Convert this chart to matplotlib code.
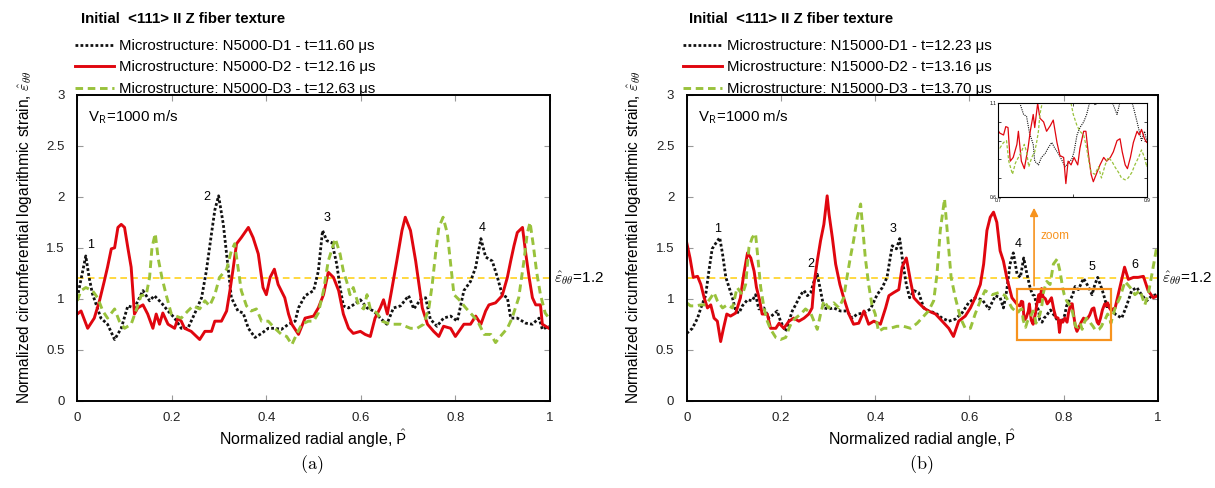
import matplotlib
matplotlib.use("Agg")
import matplotlib.pyplot as plt
from matplotlib.patches import Rectangle
from matplotlib.lines import Line2D

plt.rcParams["font.family"] = ["Liberation Sans", "DejaVu Sans"]
plt.rcParams["mathtext.fontset"] = "cm"

# ---------------- panel (a): N5000 ----------------
a_d1_p = [0, 0.018, 0.025, 0.032, 0.05, 0.064, 0.079, 0.093, 0.107, 0.121,
          0.139, 0.153, 0.163, 0.178, 0.192, 0.206, 0.22, 0.234, 0.248, 0.263,
          0.273, 0.284, 0.291, 0.299, 0.309, 0.319, 0.326, 0.34, 0.351, 0.362,
          0.376, 0.39, 0.404, 0.418, 0.432, 0.447, 0.461, 0.468, 0.482, 0.5,
          0.51, 0.519, 0.528, 0.539, 0.549, 0.556, 0.563, 0.574, 0.584, 0.599,
          0.613, 0.627, 0.641, 0.655, 0.669, 0.684, 0.701, 0.712, 0.726, 0.737,
          0.747, 0.761, 0.775, 0.79, 0.804, 0.818, 0.832, 0.843, 0.854, 0.864,
          0.878, 0.889, 0.899, 0.91, 0.917, 0.931, 0.949, 0.963, 0.977, 0.984,
          0.998]
a_d1_v = [1.01, 1.42, 1.21, 1.05, 0.81, 0.75, 0.60, 0.71, 0.93, 0.91,
          1.08, 0.98, 1.03, 0.96, 0.88, 0.81, 0.71, 0.71, 0.85, 1.01,
          1.27, 1.64, 1.87, 2.01, 1.73, 1.31, 1.01, 0.88, 0.86, 0.71,
          0.62, 0.66, 0.71, 0.71, 0.70, 0.75, 0.78, 0.91, 1.03, 1.08,
          1.27, 1.67, 1.57, 1.55, 1.34, 1.11, 0.93, 0.91, 0.94, 0.99,
          0.91, 0.88, 0.81, 0.75, 0.91, 0.93, 1.03, 0.90, 0.99, 1.01,
          0.80, 0.73, 0.81, 0.83, 0.78, 1.08, 1.17, 1.31, 1.59, 1.41,
          1.37, 1.21, 1.04, 1.01, 0.81, 0.81, 0.76, 0.75, 0.81, 0.70,
          0.73]

a_d2_p = [0, 0.008, 0.022, 0.036, 0.047, 0.057, 0.064, 0.072, 0.079, 0.086,
          0.093, 0.1, 0.107, 0.114, 0.121, 0.128, 0.139, 0.149, 0.16, 0.167,
          0.174, 0.181, 0.192, 0.206, 0.213, 0.22, 0.227, 0.241, 0.259, 0.27,
          0.284, 0.291, 0.305, 0.316, 0.323, 0.329, 0.337, 0.347, 0.362, 0.372,
          0.383, 0.393, 0.4, 0.408, 0.417, 0.425, 0.439, 0.447, 0.454, 0.468,
          0.482, 0.5, 0.51, 0.521, 0.531, 0.542, 0.553, 0.563, 0.574, 0.584,
          0.599, 0.609, 0.62, 0.63, 0.641, 0.648, 0.656, 0.665, 0.676, 0.687,
          0.694, 0.705, 0.716, 0.723, 0.73, 0.741, 0.754, 0.765, 0.775, 0.79,
          0.8, 0.818, 0.832, 0.843, 0.854, 0.864, 0.871, 0.885, 0.899, 0.91,
          0.917, 0.924, 0.931, 0.942, 0.949, 0.956, 0.963, 0.97, 0.98, 0.984,
          0.998]
a_d2_v = [0.85, 0.88, 0.71, 0.81, 0.98, 1.17, 1.31, 1.49, 1.50, 1.70,
          1.73, 1.70, 1.50, 1.31, 0.85, 0.91, 0.94, 0.85, 0.71, 0.85,
          0.75, 0.86, 0.75, 0.71, 0.81, 0.78, 0.71, 0.68, 0.60, 0.68,
          0.68, 0.78, 0.78, 0.88, 1.08, 1.27, 1.54, 1.60, 1.70, 1.60,
          1.44, 1.11, 1.04, 1.21, 1.29, 1.14, 1.01, 0.85, 0.75, 0.65,
          0.81, 0.83, 0.91, 1.04, 1.26, 1.21, 1.08, 0.85, 0.71, 0.66,
          0.68, 0.65, 0.63, 0.81, 0.91, 0.99, 0.85, 1.08, 1.37, 1.67,
          1.80, 1.67, 1.37, 1.14, 0.91, 0.75, 0.68, 0.63, 0.73, 0.71,
          0.63, 0.75, 0.75, 0.83, 0.75, 0.88, 0.94, 0.96, 1.03, 1.21,
          1.37, 1.52, 1.65, 1.70, 1.44, 1.21, 1.01, 0.94, 0.94, 0.75,
          0.71]

a_d3_p = [0, 0.008, 0.018, 0.032, 0.043, 0.054, 0.064, 0.079, 0.089, 0.1,
          0.114, 0.124, 0.135, 0.146, 0.153, 0.158, 0.165, 0.171, 0.179, 0.188,
          0.199, 0.209, 0.22, 0.234, 0.245, 0.259, 0.27, 0.28, 0.291, 0.301,
          0.316, 0.326, 0.333, 0.34, 0.347, 0.358, 0.368, 0.379, 0.39, 0.404,
          0.418, 0.432, 0.443, 0.454, 0.465, 0.475, 0.489, 0.5, 0.51, 0.521,
          0.531, 0.546, 0.556, 0.563, 0.57, 0.577, 0.584, 0.595, 0.606, 0.613,
          0.62, 0.634, 0.645, 0.662, 0.684, 0.705, 0.719, 0.733, 0.744, 0.751,
          0.758, 0.765, 0.774, 0.783, 0.79, 0.797, 0.808, 0.822, 0.832, 0.847,
          0.861, 0.875, 0.885, 0.895, 0.91, 0.92, 0.934, 0.945, 0.952, 0.958,
          0.965, 0.972, 0.98, 0.99, 0.998]
a_d3_v = [0.98, 1.08, 1.11, 1.08, 1.01, 0.88, 0.81, 0.90, 0.78, 0.71,
          0.75, 0.88, 1.03, 1.04, 1.21, 1.50, 1.64, 1.40, 1.21, 1.04,
          0.85, 0.83, 0.81, 0.88, 0.93, 0.90, 0.98, 0.93, 1.04, 1.21,
          1.29, 1.47, 1.54, 1.31, 1.08, 0.93, 0.88, 0.90, 0.78, 0.78,
          0.71, 0.65, 0.63, 0.55, 0.66, 0.75, 0.78, 0.78, 0.86, 1.08,
          1.37, 1.59, 1.44, 1.27, 1.17, 1.04, 1.11, 0.94, 0.90, 1.04,
          0.90, 0.86, 0.78, 0.75, 0.75, 0.71, 0.71, 0.75, 0.91, 1.14,
          1.44, 1.70, 1.80, 1.64, 1.34, 1.04, 0.99, 0.91, 0.86, 0.78,
          0.65, 0.65, 0.57, 0.63, 0.71, 0.81, 1.01, 1.37, 1.64, 1.75,
          1.52, 1.26, 1.04, 0.86, 0.81]

# ---------------- panel (b): N15000 ----------------
b_d1_p = [0, 0.012, 0.023, 0.03, 0.04, 0.047, 0.054, 0.061, 0.07, 0.076,
          0.083, 0.09, 0.097, 0.104, 0.111, 0.118, 0.129, 0.139, 0.146, 0.153,
          0.164, 0.174, 0.185, 0.192, 0.199, 0.21, 0.217, 0.224, 0.231, 0.242,
          0.249, 0.256, 0.263, 0.27, 0.277, 0.284, 0.291, 0.301, 0.312, 0.326,
          0.34, 0.351, 0.362, 0.376, 0.39, 0.404, 0.415, 0.425, 0.436, 0.445,
          0.452, 0.459, 0.466, 0.473, 0.482, 0.492, 0.503, 0.513, 0.528, 0.542,
          0.556, 0.57, 0.584, 0.598, 0.612, 0.627, 0.641, 0.655, 0.665, 0.672,
          0.679, 0.686, 0.693, 0.701, 0.708, 0.715, 0.722, 0.729, 0.734, 0.738,
          0.742, 0.747, 0.749, 0.754, 0.758, 0.763, 0.767, 0.772, 0.776, 0.781,
          0.785, 0.79, 0.794, 0.799, 0.802, 0.806, 0.81, 0.815, 0.819, 0.824,
          0.831, 0.842, 0.852, 0.86, 0.866, 0.872, 0.882, 0.887, 0.893, 0.897,
          0.9, 0.909, 0.923, 0.934, 0.944, 0.955, 0.965, 0.976, 0.987, 0.997]
b_d1_v = [0.66, 0.71, 0.81, 0.91, 1.03, 1.27, 1.49, 1.54, 1.60, 1.44,
          1.21, 1.11, 1.01, 0.88, 0.86, 0.93, 0.99, 0.98, 1.04, 0.90,
          0.91, 0.81, 0.85, 0.88, 0.78, 0.68, 0.78, 0.88, 0.94, 1.04,
          1.08, 1.03, 1.06, 1.17, 1.24, 1.08, 0.91, 0.90, 0.91, 0.88,
          0.88, 0.81, 0.85, 0.86, 0.90, 1.04, 1.11, 1.21, 1.52, 1.49,
          1.59, 1.34, 1.14, 1.01, 1.08, 1.06, 0.91, 0.88, 0.86, 0.81,
          0.78, 0.80, 0.86, 0.96, 1.01, 0.99, 0.90, 1.03, 1.01, 0.91,
          1.08, 1.34, 1.45, 1.24, 1.21, 1.40, 1.24, 1.10, 1.04, 1.03,
          0.94, 0.88, 0.79, 0.77, 0.81, 0.83, 0.86, 0.89, 0.86, 0.83,
          0.80, 0.76, 0.78, 0.80, 0.84, 0.93, 0.97, 1.00, 1.04, 1.12,
          1.09, 1.20, 1.12, 1.04, 1.14, 1.21, 1.08, 1.00, 0.90, 0.95,
          0.90, 0.85, 0.81, 0.94, 1.08, 1.11, 1.04, 0.98, 1.03, 1.04]

b_d2_p = [0, 0.007, 0.014, 0.023, 0.03, 0.037, 0.044, 0.051, 0.058, 0.065,
          0.072, 0.078, 0.085, 0.093, 0.104, 0.114, 0.121, 0.129, 0.136, 0.143,
          0.148, 0.155, 0.16, 0.171, 0.178, 0.189, 0.196, 0.206, 0.217, 0.227,
          0.238, 0.249, 0.259, 0.266, 0.27, 0.277, 0.284, 0.291, 0.298, 0.302,
          0.309, 0.316, 0.325, 0.333, 0.344, 0.354, 0.365, 0.376, 0.386, 0.397,
          0.411, 0.422, 0.429, 0.439, 0.45, 0.457, 0.466, 0.475, 0.482, 0.492,
          0.503, 0.513, 0.528, 0.542, 0.556, 0.566, 0.577, 0.591, 0.602, 0.612,
          0.623, 0.63, 0.637, 0.644, 0.651, 0.658, 0.665, 0.672, 0.679, 0.69,
          0.702, 0.707, 0.71, 0.713, 0.716, 0.72, 0.725, 0.727, 0.731, 0.735,
          0.74, 0.743, 0.747, 0.749, 0.753, 0.756, 0.761, 0.765, 0.77, 0.774,
          0.779, 0.783, 0.788, 0.791, 0.794, 0.798, 0.802, 0.807, 0.81, 0.815,
          0.818, 0.821, 0.825, 0.828, 0.833, 0.837, 0.842, 0.846, 0.851, 0.855,
          0.86, 0.864, 0.867, 0.871, 0.874, 0.878, 0.882, 0.887, 0.89, 0.893,
          0.897, 0.9, 0.909, 0.919, 0.929, 0.937, 0.948, 0.958, 0.969, 0.979,
          0.99, 0.999]
b_d2_v = [1.55, 1.40, 1.21, 1.22, 1.14, 1.01, 0.91, 0.94, 0.81, 0.78,
          0.58, 0.71, 0.85, 0.83, 0.86, 1.01, 1.24, 1.45, 1.40, 1.27,
          1.11, 0.98, 0.85, 0.85, 0.71, 0.71, 0.76, 0.71, 0.78, 0.81,
          0.78, 0.81, 0.85, 0.91, 1.14, 1.37, 1.57, 1.73, 2.01, 1.83,
          1.60, 1.34, 1.14, 1.01, 0.85, 0.75, 0.76, 0.88, 0.75, 0.78,
          0.75, 0.91, 1.03, 1.06, 1.09, 1.31, 1.40, 1.17, 1.01, 0.96,
          0.91, 0.88, 0.85, 0.78, 0.71, 0.63, 0.78, 0.83, 0.91, 1.01,
          1.14, 1.34, 1.67, 1.80, 1.85, 1.75, 1.47, 1.37, 1.21, 1.01,
          0.94, 0.93, 0.975, 0.97, 0.79, 0.81, 0.88, 0.95, 0.79, 0.75,
          0.86, 0.95, 1.04, 0.97, 1.10, 1.02, 1.00, 0.95, 0.98, 1.01,
          0.89, 0.82, 0.81, 0.67, 0.79, 0.77, 0.81, 0.77, 0.86, 0.95,
          0.95, 0.84, 0.72, 0.68, 0.73, 0.77, 0.81, 0.79, 0.81, 0.84,
          0.90, 0.91, 0.84, 0.77, 0.75, 0.81, 0.89, 0.95, 0.93, 0.96,
          0.91, 0.89, 0.91, 1.11, 1.31, 1.19, 1.21, 1.21, 1.22, 1.08,
          1.01, 1.03]

b_d3_p = [0, 0.008, 0.019, 0.03, 0.04, 0.051, 0.058, 0.065, 0.076, 0.086,
          0.097, 0.107, 0.118, 0.125, 0.132, 0.139, 0.146, 0.151, 0.157, 0.164,
          0.171, 0.178, 0.189, 0.199, 0.21, 0.217, 0.224, 0.231, 0.242, 0.252,
          0.263, 0.27, 0.277, 0.284, 0.291, 0.301, 0.312, 0.323, 0.333, 0.34,
          0.347, 0.354, 0.362, 0.369, 0.374, 0.379, 0.386, 0.393, 0.4, 0.407,
          0.418, 0.432, 0.446, 0.46, 0.475, 0.489, 0.503, 0.513, 0.524, 0.531,
          0.538, 0.547, 0.554, 0.561, 0.57, 0.581, 0.591, 0.602, 0.612, 0.623,
          0.633, 0.648, 0.662, 0.676, 0.69, 0.702, 0.707, 0.711, 0.714, 0.719,
          0.723, 0.727, 0.731, 0.735, 0.738, 0.741, 0.745, 0.749, 0.752, 0.754,
          0.756, 0.759, 0.764, 0.771, 0.778, 0.786, 0.792, 0.798, 0.801, 0.806,
          0.81, 0.815, 0.819, 0.822, 0.825, 0.83, 0.835, 0.839, 0.844, 0.848,
          0.853, 0.857, 0.862, 0.866, 0.871, 0.875, 0.88, 0.884, 0.889, 0.893,
          0.897, 0.9, 0.909, 0.919, 0.93, 0.941, 0.951, 0.962, 0.972, 0.979,
          0.987, 0.997]
b_d3_v = [0.96, 0.93, 0.93, 0.94, 0.94, 1.01, 1.06, 0.98, 0.91, 0.94,
          0.91, 1.11, 1.04, 1.14, 1.50, 1.60, 1.64, 1.40, 1.11, 0.91,
          0.78, 0.70, 0.62, 0.60, 0.62, 0.71, 0.78, 0.81, 0.85, 0.90,
          0.86, 0.78, 0.70, 0.85, 0.98, 0.91, 0.96, 0.91, 1.01, 1.21,
          1.40, 1.57, 1.80, 1.93, 1.67, 1.40, 1.14, 0.94, 0.85, 0.68,
          0.71, 0.71, 0.73, 0.73, 0.71, 0.76, 0.83, 0.88, 0.98, 1.24,
          1.67, 1.98, 1.60, 1.21, 1.01, 0.81, 0.71, 0.71, 0.85, 0.98,
          1.08, 1.04, 1.06, 1.03, 0.91, 0.86, 0.89, 0.90, 0.79, 0.72,
          0.78, 0.81, 0.84, 0.88, 0.84, 0.76, 0.81, 0.84, 0.90, 0.95,
          1.04, 1.10, 1.17, 1.14, 1.34, 1.39, 1.27, 1.10, 1.04, 0.98,
          0.95, 0.93, 0.86, 0.79, 0.73, 0.72, 0.76, 0.70, 0.77, 0.81,
          0.79, 0.76, 0.73, 0.70, 0.69, 0.70, 0.73, 0.77, 0.81, 0.85,
          0.81, 0.76, 0.91, 1.01, 1.17, 1.11, 1.04, 1.08, 0.94, 1.04,
          1.24, 1.50]

a_labels = ["Microstructure: N5000-D1 - t=11.60 μs",
            "Microstructure: N5000-D2 - t=12.16 μs",
            "Microstructure: N5000-D3 - t=12.63 μs"]
b_labels = ["Microstructure: N15000-D1 - t=12.23 μs",
            "Microstructure: N15000-D2 - t=13.16 μs",
            "Microstructure: N15000-D3 - t=13.70 μs"]
legend_title = "Initial  <111> II Z fiber texture"

# peak numbers: (P, value, text)
a_peaks = [(0.029, 1.53, "1"), (0.275, 2.0, "2"), (0.528, 1.79, "3"), (0.856, 1.69, "4")]
b_peaks = [(0.066, 1.68, "1"), (0.263, 1.34, "2"), (0.438, 1.68, "3"),
           (0.703, 1.54, "4"), (0.86, 1.31, "5"), (0.951, 1.33, "6")]

threshold = 1.2
zoom_box = (0.7, 0.9, 0.6, 1.1)

BLACK = "#111111"
RED = "#e0060f"
GREEN = "#99c23c"
YELLOW = "#ffd21f"
ORANGE = "#f7931e"

styles = [dict(color=BLACK, ls=(0, (1, 0.8)), lw=2.0),
          dict(color=RED, ls="-", lw=2.1),
          dict(color=GREEN, ls=(0, (2.6, 1.6)), lw=2.1)]


def draw_panel(ax, series, labels, peaks, legend_x, letter, letter_x):
    for (p, v), st in zip(series, styles):
        ax.plot(p, v, **st)
    ax.axhline(threshold, color=YELLOW, ls=(0, (4, 2.5)), lw=1.2, zorder=1)
    ax.set_xlim(0, 1)
    ax.set_ylim(0, 3)
    ax.set_xticks([0, 0.2, 0.4, 0.6, 0.8, 1])
    ax.set_xticklabels(["0", "0.2", "0.4", "0.6", "0.8", "1"])
    ax.set_yticks([0, 0.5, 1, 1.5, 2, 2.5, 3])
    ax.set_yticklabels(["0", "0.5", "1", "1.5", "2", "2.5", "3"])
    ax.tick_params(direction="in", top=True, right=True, length=4, width=0.8,
                   color="#999999", labelsize=9.5, labelcolor="#222222")
    ax.tick_params(axis="x", pad=8)
    ax.tick_params(axis="y", pad=9)
    for s in ax.spines.values():
        s.set_linewidth(1.4)
    ax.set_xlabel(r"Normalized radial angle, $\hat{\mathsf{P}}$", fontsize=11.5, va="center")
    ax.xaxis.set_label_coords(0.5, -0.125)
    ax.set_ylabel(r"Normalized circumferential logarithmic strain, $\hat{\varepsilon}_{\theta\theta}$",
                  fontsize=11.2, va="center")
    ax.yaxis.set_label_coords(-0.112, 0.535)
    ax.text(0.023, 0.928, r"V$_\mathsf{R}$=1000 m/s", transform=ax.transAxes,
            fontsize=10.8, va="center", ha="left")
    ax.text(1.008, threshold, r"$\hat{\varepsilon}_{\theta\theta}$=1.2", transform=ax.get_yaxis_transform(),
            fontsize=11, va="center", ha="left")
    for p, v, t in peaks:
        ax.text(p, v, t, fontsize=9, ha="center", va="center")
    handles = [Line2D([], [], **st) for st in styles]
    fig.text(legend_x + 6 / 1215, 1 - 19 / 488, legend_title, fontsize=10.8,
             weight="bold", ha="left", va="center")
    fig.legend(handles, labels, loc="upper left", bbox_to_anchor=(legend_x, 1 - 39 / 488),
               frameon=False, fontsize=10.8, handlelength=2.6, handletextpad=0.35,
               labelspacing=0.5, borderpad=0, borderaxespad=0)
    fig.text(letter_x, 0.047, r"$\mathrm{" + letter + "}$", fontsize=13,
             ha="center", va="center")


fig = plt.figure(figsize=(12.15, 4.88), dpi=100)
ax_a = fig.add_axes([0.0636, 0.179, 0.389, 0.6264])
ax_b = fig.add_axes([0.5652, 0.179, 0.3879, 0.6264])

draw_panel(ax_a, [(a_d1_p, a_d1_v), (a_d2_p, a_d2_v), (a_d3_p, a_d3_v)],
           a_labels, a_peaks, 0.0617, "(a)", 0.2568)
draw_panel(ax_b, [(b_d1_p, b_d1_v), (b_d2_p, b_d2_v), (b_d3_p, b_d3_v)],
           b_labels, b_peaks, 0.562, "(b)", 0.758)

# zoom box + arrow on panel (b)
x0, x1, y0, y1 = zoom_box
ax_b.add_patch(Rectangle((x0, y0), x1 - x0, y1 - y0, fill=False, ec=ORANGE, lw=1.6, zorder=5))
ax_b.annotate("", xy=(0.737, 1.92), xytext=(0.737, y1),
              arrowprops=dict(arrowstyle="-|>", color=ORANGE, lw=1.2, mutation_scale=12))
ax_b.text(0.75, 1.62, "zoom", color=ORANGE, fontsize=8.5, va="center")

# inset
ax_in = fig.add_axes([0.8217, 0.597, 0.1221, 0.1914])
in_styles = [dict(color=BLACK, ls=(0, (1, 1)), lw=0.8),
             dict(color=RED, ls="-", lw=0.9),
             dict(color=GREEN, ls=(0, (2.5, 1.5)), lw=0.9)]
for (p, v), st in zip([(b_d1_p, b_d1_v), (b_d2_p, b_d2_v), (b_d3_p, b_d3_v)], in_styles):
    ax_in.plot(p, v, **st)
ax_in.set_xlim(x0, x1)
ax_in.set_ylim(y0, y1)
ax_in.set_xticks([0.7, 0.8, 0.9])
ax_in.set_xticklabels(["0.7", "", "0.9"])
ax_in.set_yticks([0.6, 0.7, 0.8, 0.9, 1.0, 1.1])
ax_in.set_yticklabels(["0.6", "", "", "", "", "1.1"])
ax_in.tick_params(direction="in", right=True, top=True, length=2, width=0.5,
                  labelsize=3.5, pad=1)
for s in ax_in.spines.values():
    s.set_linewidth(0.8)

fig.savefig("out.png", dpi=100)
